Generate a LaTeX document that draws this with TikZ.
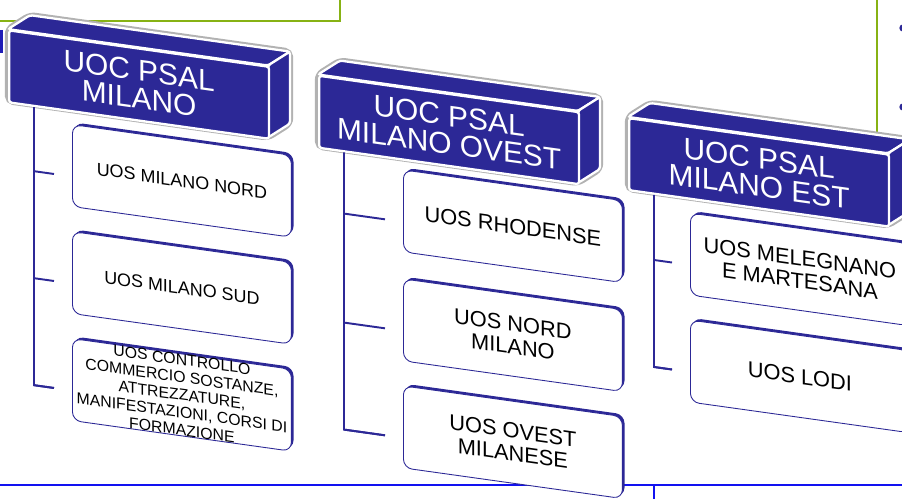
\documentclass[tikz,border=0pt]{standalone}
\usepackage{fontspec}
\setmainfont{Liberation Sans}
\usetikzlibrary{calc,shadows}

\definecolor{psalblue}{RGB}{44,40,150}
\definecolor{framegreen}{RGB}{135,178,20}
\definecolor{frameblue}{RGB}{18,18,240}

\tikzset{
	face/.style={fill=psalblue,draw=white,line width=1.3pt,rounded corners=1.5pt},
	rim/.style={fill=white,draw=black!30,line width=3.6pt,rounded corners=3pt},
	hdr/.style={face,anchor=north west,minimum width=5.2cm,minimum height=1.44cm,inner sep=0pt,align=center,text=white,font=\fontsize{17}{16}\selectfont},
	uos/.style={anchor=north west,rectangle,rounded corners=5pt,fill=white,draw=psalblue,line width=0.5pt,minimum width=4.38cm,minimum height=1.64cm,inner sep=0pt,align=center,font=\fontsize{12.4}{13}\selectfont,general shadow={fill=psalblue,shadow xshift=1.2pt,shadow yshift=1.2pt}},
	link/.style={draw=psalblue,line width=1.1pt},
	dot/.style={circle,fill=psalblue,inner sep=0pt,minimum size=4.2pt},
}

\begin{document}
\begin{tikzpicture}[x=0.02cm,y=-0.02cm]
	\useasboundingbox (0,0) rectangle (902,499);
	\clip (0,0) rectangle (902,499);

	% slide frame behind the chart
	\draw[framegreen,line width=1.2pt] (0,21) -- (340,21) -- (340,0);
	\draw[framegreen,line width=1.2pt] (877,0) -- (877,140);
	\draw[frameblue,line width=1.4pt] (0,485) -- (902,485);
	\draw[frameblue,line width=1pt] (654,485) -- (654,499);
	\draw[psalblue!70!blue,line width=1.8pt] (1.5,30) -- (1.5,53);
	\node[dot] (d1) at (903,28) {};
	\node[dot] (d2) at (903,107) {};

	\begin{scope}[yslant=-0.14,transform shape]
		% 3d headers
		\foreach \n/\x/\u/\txt in {1/8/28/{UOC PSAL\\MILANO},2/318/30/{UOC PSAL\\MILANO OVEST},3/628/29/{UOC PSAL\\MILANO EST}}
		{
			\draw[rim] (\x,\u) -- ++(22,-17) -- ++(260,0) -- ++(0,72) -- ++(-22,17) -- ++(-260,0) -- cycle;
			\draw[face] (\x,\u) -- ++(22,-17) -- ++(260,0) -- ++(-22,17) -- cycle;
			\draw[face] (\x+260,\u) -- ++(22,-17) -- ++(0,72) -- ++(-22,17) -- cycle;
			\node[hdr] (h\n) at (\x,\u) {\txt};
		}

		\node[uos,font=\fontsize{10.2}{11}\selectfont] (u11) at (72,114) {UOS MILANO NORD};
		\node[uos,font=\fontsize{10.2}{11}\selectfont] (u12) at (72,221) {UOS MILANO SUD};
		\node[uos,font=\fontsize{9}{10}\selectfont] (u13) at (72,328) {UOS CONTROLLO\\COMMERCIO SOSTANZE,\\ATTREZZATURE,\\MANIFESTAZIONI, CORSI DI\\FORMAZIONE};
		\node[uos] (u21) at (403,113) {UOS RHODENSE};
		\node[uos] (u22) at (403,222) {UOS NORD\\MILANO};
		\node[uos] (u23) at (403,329) {UOS OVEST\\MILANESE};
		\node[uos] (u31) at (690,116) {UOS MELEGNANO\\E MARTESANA};
		\node[uos] (u32) at (690,223) {UOS LODI};

		% spines and ticks
		\foreach \c/\l/\last in {1/20/3,2/41/3,3/18/2}
		{
			\foreach \r in {1,...,\last}
				\coordinate (t\c\r) at ($(u\c\r.west)+(-18,11)$);
			\draw[link] ($(h\c.south west)+(26,0)$) -- ($(t\c\last)+(-\l,0)$) -- (t\c\last);
			\foreach \r in {1,...,\last}
				\draw[link] ($(t\c\r)+(-\l,0)$) -- (t\c\r);
		}
	\end{scope}
\end{tikzpicture}
\end{document}
